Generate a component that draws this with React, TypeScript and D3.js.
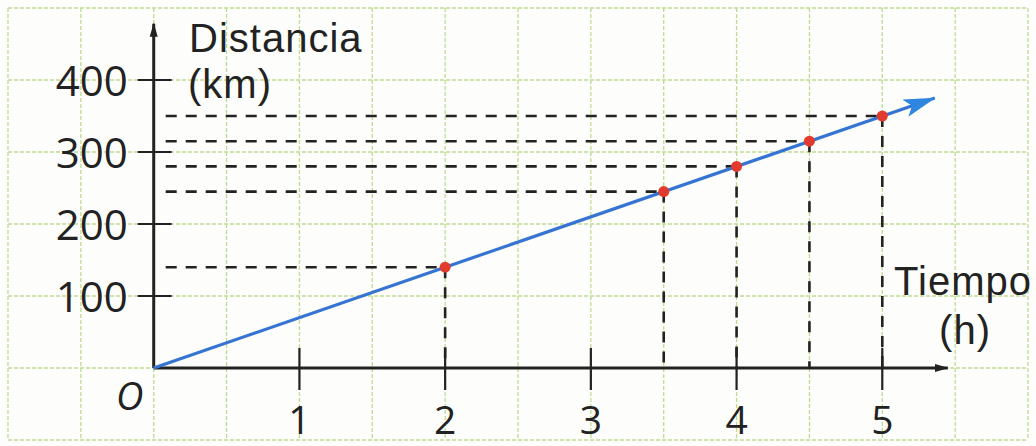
import React, { useEffect, useRef } from 'react';
import * as d3 from 'd3';

// datos (velocidad constante)
const times = [2, 3.5, 4, 4.5, 5];
const distances = [140, 245, 280, 315, 350];
const lineTimes = [0, 5.36];
const lineDistances = [0, 375];
const xTickValues = [1, 2, 3, 4, 5];
const yTickValues = [100, 200, 300, 400];
const gridX = d3.range(-1, 6.01, 0.5);
const gridY = [-100, 0, 100, 200, 300, 400, 500];

const App = () => {
  const ref = useRef<SVGSVGElement | null>(null);

  useEffect(() => {
    const width = 1036;
    const height = 446;
    const font = '"Open Sans", "Noto Sans", sans-serif';
    const titleFont = '"Liberation Sans", Arial, sans-serif';
    const ink = '#222';

    const svg = d3.select(ref.current);
    svg.selectAll('*').remove();

    const x = d3.scaleLinear().domain([-1, 6]).range([8, 1028]);
    const y = d3.scaleLinear().domain([-100, 500]).range([440, 8]);

    const defs = svg.append('defs');
    defs.append('marker')
      .attr('id', 'axis-arrow')
      .attr('viewBox', '0 0 14 10')
      .attr('refX', 13)
      .attr('refY', 5)
      .attr('markerWidth', 14)
      .attr('markerHeight', 10)
      .attr('markerUnits', 'userSpaceOnUse')
      .attr('orient', 'auto')
      .append('path')
      .attr('d', 'M0,1 L14,5 L0,9 Z')
      .attr('fill', ink);
    defs.append('marker')
      .attr('id', 'blue-arrow')
      .attr('viewBox', '0 0 32 18')
      .attr('refX', 31)
      .attr('refY', 9)
      .attr('markerWidth', 32)
      .attr('markerHeight', 18)
      .attr('markerUnits', 'userSpaceOnUse')
      .attr('orient', 'auto')
      .append('path')
      .attr('d', 'M0,0 L32,9 L0,18 L7,9 Z')
      .attr('fill', '#2f86e0');

    svg.append('rect')
      .attr('width', width)
      .attr('height', height)
      .attr('fill', '#fdfefb');

    // cuadrícula
    const grid = svg.append('g')
      .attr('stroke', '#bedb92')
      .attr('stroke-width', 1.3)
      .attr('stroke-dasharray', '4 2');
    grid.selectAll('.gx')
      .data(gridX)
      .enter().append('line')
      .attr('x1', d => x(d))
      .attr('x2', d => x(d))
      .attr('y1', y(500))
      .attr('y2', y(-100));
    grid.selectAll('.gy')
      .data(gridY)
      .enter().append('line')
      .attr('x1', x(-1))
      .attr('x2', x(6))
      .attr('y1', d => y(d))
      .attr('y2', d => y(d));

    // líneas de referencia discontinuas
    const guides = svg.append('g')
      .attr('stroke', ink)
      .attr('stroke-width', 2.6)
      .attr('stroke-dasharray', '11 9');
    guides.selectAll('.h')
      .data(times)
      .enter().append('line')
      .attr('x1', x(0) + 12)
      .attr('x2', d => x(d))
      .attr('y1', (d, i) => y(distances[i]))
      .attr('y2', (d, i) => y(distances[i]));
    guides.selectAll('.v')
      .data(times)
      .enter().append('line')
      .attr('x1', d => x(d))
      .attr('x2', d => x(d))
      .attr('y1', (d, i) => y(distances[i]))
      .attr('y2', y(0));

    // ejes
    svg.append('line')
      .attr('x1', x(0))
      .attr('x2', x(5.45))
      .attr('y1', y(0))
      .attr('y2', y(0))
      .attr('stroke', ink)
      .attr('stroke-width', 3)
      .attr('marker-end', 'url(#axis-arrow)');
    svg.append('line')
      .attr('x1', x(0))
      .attr('x2', x(0))
      .attr('y1', y(0))
      .attr('y2', y(478))
      .attr('stroke', ink)
      .attr('stroke-width', 3)
      .attr('marker-end', 'url(#axis-arrow)');

    svg.selectAll('.xtick')
      .data(xTickValues)
      .enter().append('line')
      .attr('x1', d => x(d))
      .attr('x2', d => x(d))
      .attr('y1', y(0) - 20)
      .attr('y2', y(0) + 22)
      .attr('stroke', ink)
      .attr('stroke-width', 2.2);
    svg.selectAll('.xlabel')
      .data(xTickValues)
      .enter().append('text')
      .attr('x', d => x(d))
      .attr('y', 434)
      .attr('text-anchor', 'middle')
      .attr('font-family', font)
      .attr('font-size', 39)
      .attr('fill', ink)
      .text(d => d);

    svg.selectAll('.ytick')
      .data(yTickValues)
      .enter().append('line')
      .attr('x1', x(0) - 16)
      .attr('x2', x(0) + 18)
      .attr('y1', d => y(d))
      .attr('y2', d => y(d))
      .attr('stroke', ink)
      .attr('stroke-width', 2.2);
    svg.selectAll('.ylabel')
      .data(yTickValues)
      .enter().append('text')
      .attr('x', x(0) - 26)
      .attr('y', d => y(d) + 16)
      .attr('text-anchor', 'end')
      .attr('font-family', font)
      .attr('font-size', 42)
      .attr('fill', ink)
      .text(d => d);

    svg.append('text')
      .attr('x', x(0) - 24)
      .attr('y', 410)
      .attr('text-anchor', 'middle')
      .attr('font-family', font)
      .attr('font-style', 'italic')
      .attr('font-size', 38)
      .attr('fill', ink)
      .text('O');

    // títulos de los ejes
    const title = (tx: number, ty: number, anchor: string, label: string) =>
      svg.append('text')
        .attr('x', tx)
        .attr('y', ty)
        .attr('text-anchor', anchor)
        .attr('font-family', titleFont)
        .attr('font-size', 40)
        .attr('letter-spacing', 1)
        .attr('fill', ink)
        .text(label);
    title(189, 52, 'start', 'Distancia');
    title(188, 98, 'start', '(km)');
    title(1032, 295, 'end', 'Tiempo');
    title(991, 344, 'end', '(h)');

    // recta distancia-tiempo
    const line = d3.line<number>()
      .x(d => x(d))
      .y((d, i) => y(lineDistances[i]));
    svg.append('path')
      .datum(lineTimes)
      .attr('d', line)
      .attr('fill', 'none')
      .attr('stroke', '#3674d4')
      .attr('stroke-width', 3.2)
      .attr('marker-end', 'url(#blue-arrow)');

    svg.selectAll('.dot')
      .data(times)
      .enter().append('circle')
      .attr('cx', d => x(d))
      .attr('cy', (d, i) => y(distances[i]))
      .attr('r', 5.5)
      .attr('fill', '#e23a2c');
  }, []);

  return (
    <svg
      ref={ref}
      width={1036}
      height={446}
      style={{ position: 'absolute', left: 0, top: 0, display: 'block' }}
    />
  );
};

export default App;
